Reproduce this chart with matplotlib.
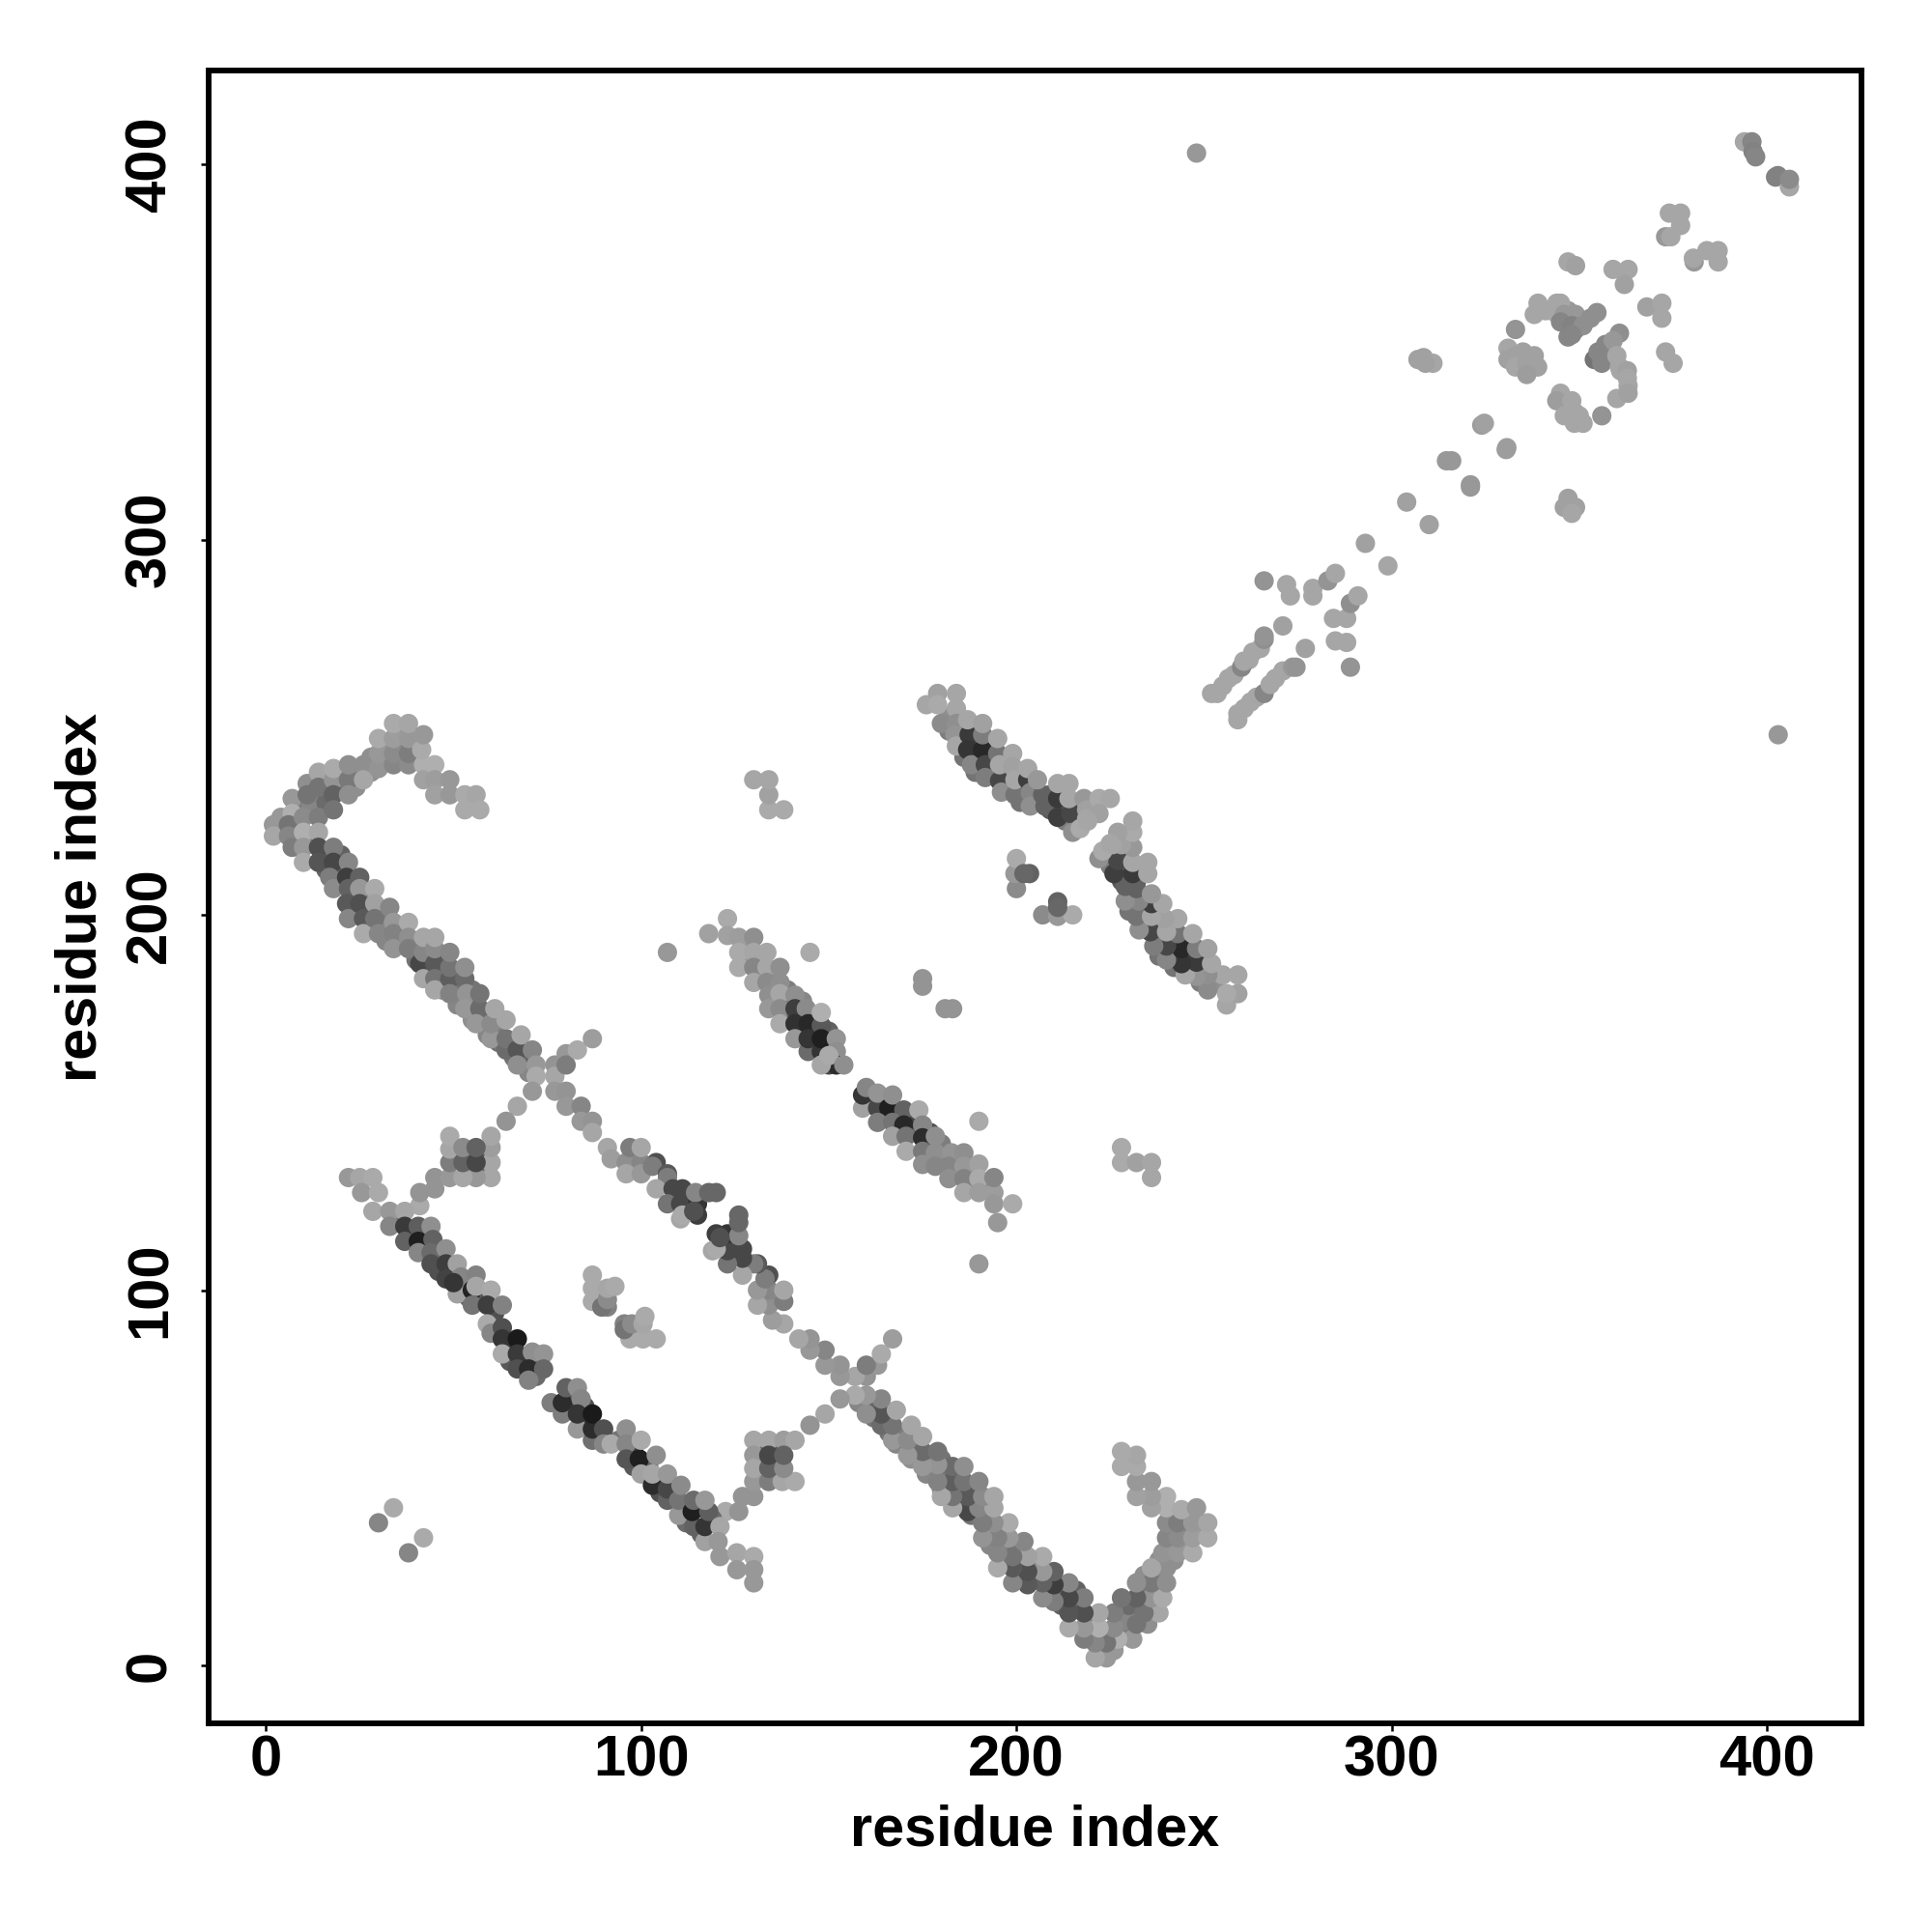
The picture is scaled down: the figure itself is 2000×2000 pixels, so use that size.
import numpy as np
import matplotlib
matplotlib.use('Agg')
import matplotlib.pyplot as plt

# contacts as (residue i, residue j, grey level 0-255)
# the map is symmetric, lists in "mirrored" get drawn on both sides of the diagonal

# dots that show only partly, under the main ones
under_a = [
    (4,222,140),(4,226,150),(8,229,120),(9,224,140),(9,220,130),(12,233,130),(12,229,130),(12,220,130),
    (16,237,140),(16,234,120),(16,230,100),(16,216,90),(16,212,90),(20,238,140),(20,234,110),(20,216,90),
    (20,212,100),(20,208,110),(24,238,130),(24,234,140),(24,208,90),(24,205,90),(24,201,100),(28,242,140),
    (28,238,140),(28,205,130),(28,201,100),(28,197,140),(32,245,150),(32,241,130),(32,200,120),(32,196,130),
    (32,193,130),(36,249,150),(36,245,130),(36,241,130),(36,196,130),(36,192,120),(40,246,150),(40,241,140),
    (40,192,120),(40,188,110),(44,192,110),(44,188,90),(44,184,90),(47,188,90),(47,184,80),(47,180,130),
    (51,184,100),(51,180,110),(51,176,130),(55,180,110),(55,176,110),(55,172,140),(59,172,110),(59,168,130),
    (62,170,120),(62,166,110),(66,166,110),(66,162,110),(69,162,90),(70,158,130),
]
under_d = [
    (182,253,140),(182,249,120),(185,250,100),(186,246,70),(186,242,110),(189,246,60),(189,242,50),(189,238,110),
    (193,242,60),(193,238,60),(197,238,80),(197,234,90),(201,234,90),(201,230,110),(205,234,80),(205,230,90),
    (209,232,80),(209,228,80),(213,229,80),(213,225,120),(216,228,100),(216,224,120),(220,227,140),
]
under_b = [
    (35,119,110),(39,115,60),(42,115,80),(42,111,90),(46,109,60),(46,105,70),(49,105,60),(53,101,60),(54,98,90),
    (58,98,80),(61,94,70),(61,89,70),(65,85,40),(65,81,80),(69,81,70),(72,81,100),(72,77,100),
    (81,72,90),(81,68,50),(85,69,70),(85,65,50),(89,61,70),(94,60,110),(98,57,60),(98,53,80),(102,53,90),
    (105,50,60),(105,46,70),(109,46,80),(112,42,70),(112,38,100),(116,42,70),(116,35,90),(119,39,100),
]
under_c = [
    (128,192,150),(128,188,150),(132,188,140),(132,184,140),(135,184,130),(135,180,130),(139,180,120),(139,176,100),
    (139,172,100),(143,177,130),(143,173,60),(143,169,60),(146,172,70),(146,168,50),(146,165,60),(150,169,90),
    (150,165,50),(150,160,60),
    (161,150,60),(165,150,70),(165,146,70),(168,146,60),(172,146,60),(172,142,70),(177,142,70),(177,138,90),
    (180,139,120),(180,135,120),(184,135,130),(184,131,120),(188,131,130),(188,128,130),(192,128,130),
]
under_helix = [
    (258,264,165),(262,268,165),(263,270,165),(264,258,165),(269,263,165),(335,350,160),(334,347,160),(338,349,160),
    (346,336,160),(347,335,165),(350,333,165),(347,354,130),(349,356,120),(357,352,130),(358,349,130),(361,345,165),
    (363,341,165),(341,361,165),(347,361,150),
]
under_small = [(132,54,100),(136,54,100),(132,58,100),(136,58,80),(89,97,170),(89,100,170),(91,95.5,125)]

hook_and_band_a = [
    (2,224,150),(2,221,165),(7,231,150),(7,227,175),(6,224,110),(6,221,130),(7,218,120),
    (11,235,140),(11,232,110),(10,226,135),(10,222,175),(10,218,150),(10,214,170),
    (14,238,165),(14,234,110),(14,226,120),(14,222,165),(14,218,70),(14,214,75),
    (18,236,145),(18,239,170),(18,232,90),(18,228,110),(18,218,120),(18,214,60),(17,210,120),(18,207,135),
    (22,236,115),(22,240,140),(22,232,140),(22,214,130),(21.5,210,50),(22,207,90),(21.5,203,80),(22,199,130),
    (26,240,140),(26,236,165),(25,210,90),(25,207,150),(25,203,70),(26,199,80),(26,195,170),
    (30,239,145),(30,243,150),(30,247,170),(29,207,170),(29,203,160),(29,199,110),(30,195,130),
    (34,240,130),(34,243,135),(34,247,155),(34,251,170),(33,202,130),(34,198,150),(34,195,125),(34,191,145),
    (38,240,135),(38,243,120),(38,247,150),(38,251,165),(38,198,170),(38,194,140),(38,191,120),
    (42,240,175),(42,236,160),(41.5,244,170),(42,248,150),(41,187,60),(42,190,130),(42,194,165),(42,183,165),
    (45,240,175),(45,236,155),(45,232,160),(45,187,80),(45,183,110),(45,191,135),(45,194,165),(45,180,165),
    (49,236,150),(49,232,150),(49,183,85),(49,186,110),(49,190,130),(49,179,125),
    (53,232,170),(53,228,170),(53,183,100),(53,186,140),(53.5,179,145),(53,175,150),
    (56,232,165),(57,228,170),(57,175,100),(57,179,110),(56,171,150),
    (60,167,150),(60,171,135),(61,175,165),(64,164,100),(64,167,110),(64,172,165),
    (67,164,75),(67,160,140),(68,168,165),(71,164,130),(72,160,150),(72,157,170),(71,153,150),
    (67,149,165),(64,145,145),
    (77,160,145),(77,157,165),(77,153,150),(80,163,150),(80,160,120),(83,164,170),(87,167,155),
    (80,153,145),(80,149,150),(84,149,130),(84,145,150),(87,145,145),(87,142,165),(91,138,165),(92,135,155),
    (96,134,140),(97,138,120),(100,134,130),(100,138,165),(104,134,70),(96,131,165),(100,131,150),
    (103,133,120),(107,131,80),(107,130,120),(104,127,165),(108.5,127,60),(111,127,60),(107,123,110),
    (110.5,123,60),(115,123,40),(115,120,50),(114.5,126,130),(110.5,119,165),(111,120,170),(114,121,70),
    (118,126,95),(120,126,95),
]

# the lower left band, read on both sides of its gap, so drawn as is
band_b = [
    (22,130,150),(25,130,165),(28.5,130,170),(25.5,126,150),(30,126,170),(28.5,121,165),(33,121,150),(37,121,165),
    (33,117,130),(37,117,45),(40.6,117,85),(44,117,140),(37,113,90),(40.6,113,15),(44.5,113.5,90),
    (40.6,110,130),(44,110,100),(48,111,140),(44,107,70),(48,107,50),(51,107,160),(48,103,55),(52,103.5,130),
    (56,104,125),(51,99,160),(50,102,40),(55,100,20),(56,101,165),(60,100,170),(55,96,110),(59,96,50),(63,96,125),
    (59,91,170),(60,88.5,130),(63,90,70),(63,87,40),(67,87,10),(63,83,170),(67,83,45),(71,83.5,140),(74,83,145),
    (67,79,70),(70,79,30),(74,79,95),(70,76,125),
    (76,70,120),(79,67,120),(79,70,30),(80,74,90),(83,74,140),(84,71,130),(83,63,150),(83,67,40),
    (87,60,105),(87,63,30),(87,67,10),(90,63,70),(90,59,130),(92,59,170),
    (96,63,140),(96,59,130),(96,55,75),(99.5,55,15),(100,60,170),(100,51,160),(104,56,140),(103,48,30),(103,51,165),
    (107,44,90),(107,47,60),(107,51,150),(110,40,150),(110,44,110),(110.6,48,135),(114,37,90),(113.6,41,15),(114,44,100),
    (117,33,160),(117,37,40),(118,41,85),(117,44,150),(121,37,165),(120.5,33,150),(121,29,150),
    (125.5,30,165),(130,29,170),(125.5,25.5,150),(130,25.5,150),(130,22,150),
]

# the band in the middle, also read on both sides
band_c = [
    (118,195,160),(123,199,170),(123,194.5,160),(126,194,155),(130,194,140),(126,190,170),(130,190,165),
    (126,186,170),(130,186,130),(133.5,190,165),(133.5,186,165),(130,182,165),(137,186,140),(133.5,182,135),
    (137,182,140),(134,178.6,140),(134,175,150),(137,179,165),(137,175,135),(141,178.6,140),(141,175,50),
    (144,175,135),(137,171,170),(141,171,35),(144.5,171,25),(148,170.5,80),(148,174,175),(141,167,150),
    (144.5,163.6,100),(144.5,167,40),(148,163.6,40),(148,167,15),(152,167,145),(152,163.6,140),
    (152,160,30),(148,160,165),(150,162.5,170),(154,160,140),
    (159,148.5,160),(159,152,40),(160,154,130),(163,148.5,60),(163,152.5,145),(166,148.5,15),(167,152,140),
    (170,148,90),(174,148,170),(163,144.7,120),(167,144.7,110),(170,144,25),(175,144,130),(167,141,160),
    (170.6,141,110),(175,140.6,30),(178.4,141,140),(170.6,137,170),(175,137,115),(178.4,136.6,140),
    (182.7,136.6,145),(186,136.6,140),(175,133.5,140),(178.4,133,130),(182,133,130),(186,133,150),(190,133.6,160),
    (182,129.7,140),(186,129.7,125),(190,129.7,170),(186,126,165),(190,126,155),(194,126,155),(194,130,130),
    (194,123,150),(199,123,170),(195,118,150),
]

band_d = [
    (176,256,165),(179,259,160),(184,259,165),(179,256,170),(180,251,135),(184,255,165),(184,251,140),(183.6,248,145),
    (184,245,165),(187.4,248,45),(187,244,40),(188,240,130),(187,252,165),(191,244,25),(191.7,240,60),(191,248,120),
    (191,251,160),(191.7,236.6,120),(195.5,235.7,60),(195,243,110),(195,247,165),(195.5,240,165),(196,232.7,140),
    (199.6,232,110),(199,243,165),(199,239.5,160),(199.6,236,165),(203,236,50),(203,239,165),(203.7,232.6,130),
    (203.7,229,140),(207,232,90),(207.6,229,90),(205.6,236,150),(211,231,45),(211,226,50),(211,235,165),
    (214.5,227,60),(214,231,165),(214,235,165),(215,222,140),(218,231,150),(218.7,228,160),(218.7,225.6,165),
    (217,223,170),(222,231,170),(225,231,165),(222,227,160),(219,225,165),
]

# short side arms and small clusters
arm_cluster = [
    (122.5,41,170),(126,41,145),(127,45,145),(130,45,145),(130,49,150),(134,49,120),(137.6,49,165),(141,49,170),
    (130,60,165),(134,60,165),(138,60,155),(141,60,165),
    (130,56,150),(130,52.5,165),(134,52.5,90),(138,52.5,135),(134,56,60),(138,56,90),
]
pair_near_30 = [(30,38,130),(34,42,170)]
pair_near_90 = [(87,104,170),(87,100.5,170),(87,97,170),(89.5,95.5,110),(91,97.5,135),(91,100.5,165),(93,101,170)]
cluster_130_230 = [(228,138,170),(228,134,170),(232,134,160),(236,134,165),(236,130,165)]
cluster_175 = [(175,183,145),(175,181,145)]
cluster_205 = [(207,200,135),(211,199.6,150),(215,200,170),(211,203.5,90),(211,202,95)]
singles = [(190,107,150),(190,145,170),(248,403,150)]

# near the diagonal at the upper right, both sides read
helix_region = [
    (252,259,165),(253.5,259,165),(255,261,165),(256.5,263,165),(260,266,130),(260.6,267.6,165),(265,271,165),
    (266,273.4,140),(266,274.3,145),
    (259,252,165),(259,253.6,165),(260.7,255,165),(262.4,256.7,165),(266,259,130),(267.6,261.4,165),(271,265,165),
    (273.6,266,150),(274.5,266,145),
    (266,289,145),(271,277,160),(277,271,160),(289,266,145),(272,288,165),(273,285,165),(279,287,165),(279,285,165),
    (283,289,145),(285,291,165),(284.5,279,165),(288,279,165),(289,283,140),(291,285,165),(285,273,165),(288,272.6,165),
    (293,299,160),(299,293,165),(304,310,160),(310,304,160),
    (314.6,321,150),(316,321,150),(321,314.6,150),(321,314,150),(324,330.5,155),(324.7,331,160),(330.7,324.5,155),(330.5,324,155),
    (307,348,160),(308.5,348.5,160),(311,347,165),(309,347,160),(347,311,160),(346,308.6,160),(349,308.6,160),(348,307,165),
    (331,351,165),(331,348,160),(333,349,160),(333,346,165),(336,347,160),(338.9,346,160),(336,344,155),
    (345,339,165),(344,337,155),(348,337,165),(346,333,165),(348.7,331,165),(351,331,165),(348.7,334,165),
    (333,356,145),(356,333,145),
    (339,363,165),(338,360,165),(344,363,165),(345,363,165),(343.6,360.5,165),(346,360,150),(349,360,150),
    (345,358,130),(348,357,125),(351,357,140),(348,354.6,130),(354.7,360.5,140),(353,359,140),
    (360.7,355,140),(359,353,150),(354,348,110),(355,350,130),(356,347,130),(360,349,165),(360.7,346,165),
    (362.8,345,160),(362.8,343,165),(360,337.6,165),(363,339,160),
    (347,374,165),(349,373,160),(359,372,165),(363,372,165),(362,368,160),(368,362,160),(372,363,165),(372,359,165),
    (373,350,165),(375,347,165),
    (374,387,165),(377,387,165),(377,383.7,165),(373,380.7,150),(374.4,380.7,165),
    (380.6,374,150),(380.4,375,165),(384,377,165),(387,377,165),(387,374,165),
    (394,406,165),(396,406,130),(396.3,403.4,125),(397,402,130),
    (402.3,396.6,125),(402.9,397,125),(406,394,165),(406,396,135),
]

mirrored = [under_a, under_d, under_small, hook_and_band_a, band_d, arm_cluster, pair_near_30, pair_near_90,
            cluster_130_230, cluster_175, cluster_205, singles]
as_read = [under_b, under_c, under_helix, band_b, band_c, helix_region]

xticks = [0, 100, 200, 300, 400]
yticks = [0, 100, 200, 300, 400]

plt.rcParams['font.family'] = ['Liberation Sans', 'DejaVu Sans']
plt.rcParams['font.weight'] = 'bold'

fig = plt.figure(figsize=(10, 10), dpi=200)
ax = fig.add_axes([0.108, 0.108, 0.8555, 0.8555])


def draw(points):
    i, j, grey = np.array(points, dtype=float).T
    # slightly wider range than 0-255 so the darkest dots do not go full black
    ax.scatter(i, j, c=grey, cmap='gray', vmin=-20, vmax=265, s=52, linewidths=0, zorder=3)


for group in mirrored:
    draw(group)
    draw([(b, a, g) for a, b, g in group])
for group in as_read:
    draw(group)

ax.set_xlim(-15.26, 425.2)
ax.set_ylim(-15.44, 425)
ax.set_xticks(xticks)
ax.set_yticks(yticks)
ax.tick_params(axis='x', length=3, width=0.9, labelsize=21.5, pad=1.2)
ax.tick_params(axis='y', length=3, width=0.9, labelsize=21.5, pad=8.7)
plt.setp(ax.get_yticklabels(), rotation=90, va='center')
for s in ax.spines.values():
    s.set_linewidth(2.1)

ax.set_xlabel('residue index', fontsize=21.4, fontweight='bold')
ax.set_ylabel('residue index', fontsize=21.4, fontweight='bold')
ax.xaxis.set_label_coords(0.5, -0.0486)
ax.yaxis.set_label_coords(-0.0609, 0.5)

fig.savefig('out.png')
